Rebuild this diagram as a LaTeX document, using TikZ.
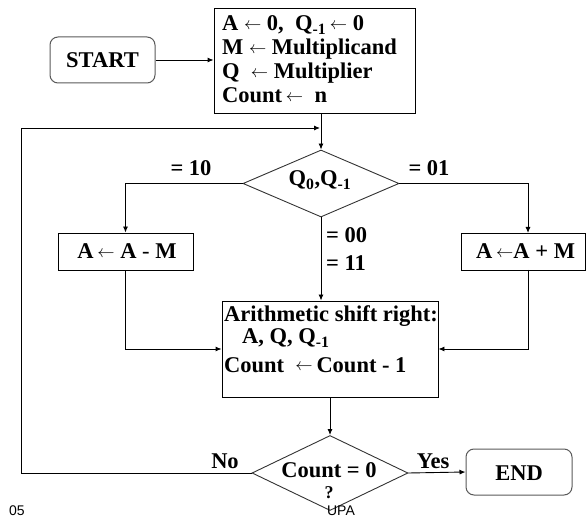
\documentclass[tikz,border=0pt]{standalone}
\usepackage{fontspec}
\setmainfont{Liberation Serif}
\setsansfont{Liberation Sans}
\usetikzlibrary{shapes.geometric,arrows.meta}

% thin assignment arrow used inside the boxes
\newcommand\larr{{\mdseries\fontsize{18}{18}\selectfont\raisebox{1.5pt}{$\leftarrow$}}}

\begin{document}
\begin{tikzpicture}[x=1pt,y=-1pt,
  every node/.style={inner sep=0pt,font=\bfseries\fontsize{22.5}{24}\selectfont},
  line/.style={line width=0.9pt},
  arr/.style={line width=0.9pt,-{Latex[length=6pt,width=5pt]}},
  box/.style={draw,line width=0.9pt,rectangle},
  term/.style={draw=black!65,line width=1pt,rectangle,rounded corners=8pt},
  dia/.style={draw=black!80,line width=0.9pt,diamond,minimum width=156pt},
  txt/.style={anchor=base west},
  ctxt/.style={anchor=base},
  note/.style={anchor=base,font=\sffamily\mdseries\fontsize{14}{14}\selectfont}]
\useasboundingbox (0,0) rectangle (586,518);

% terminals
\node[term,minimum width=105pt,minimum height=46pt] (start) at (102.5,60) {};
\node[ctxt] (startt) at (102.5,68) {START};
\node[term,minimum width=106pt,minimum height=46pt] (end) at (519,472) {};
\node[ctxt] (endt) at (519,480) {END};

% initialisation box
\node[box,minimum width=201pt,minimum height=105pt] (init) at (314.5,60.5) {};
\node[txt] (i1) at (222,31) {A~\larr~0,~~Q\textsubscript{-1}\,\larr~0};
\node[txt] (i2) at (222,55) {M~\larr~Multiplicand};
\node[txt] (i3) at (222,79) {Q~~\larr~Multiplier};
\node[txt] (i4) at (222,103) {Count\,\larr~~n};

% first decision
\node[dia,minimum height=67pt] (d1) at (321,183.5) {};
\node[ctxt] (d1t) at (320,186) {Q\textsubscript{0},Q\textsubscript{-1}};

% add / subtract boxes
\node[box,minimum width=135pt,minimum height=37pt] (sub) at (125.5,251.5) {};
\node[ctxt] (subt) at (127,259) {A\,\larr~A {\mdseries -} M};
\node[box,minimum width=124pt,minimum height=37pt] (add) at (523,251.5) {};
\node[txt] (addt) at (476,259) {A\,\larr A + M};
\coordinate (addin) at (528,233);
\coordinate (addout) at (528,270);

% shift box
\node[box,minimum width=216pt,minimum height=96pt] (asr) at (330,349) {};
\node[txt] (s1) at (224,322) {Arithmetic shift right:};
\node[txt] (s2) at (242,344) {A, Q, Q\textsubscript{-1}};
\node[txt] (s3) at (224,372) {Count~~\larr\,Count - 1};

% second decision
\node[dia,minimum height=75pt] (d2) at (330,473) {};
\node[ctxt] (d2t) at (329,477) {Count = 0};
\node[ctxt,font=\bfseries\fontsize{18}{18}\selectfont] (q) at (329,498) {?};

% branch labels
\node[ctxt] (l10) at (191,176) {= 10};
\node[ctxt] (l01) at (429,176) {= 01};
\node[txt] (l00) at (326,243) {= 00};
\node[txt] (l11) at (326,271) {= 11};
\node[ctxt] (lno) at (225,468) {No};
\node[ctxt] (lyes) at (433,468) {Yes};

% footer
\node[note] (f1) at (17,515) {05};
\node[note] (f2) at (341,515) {UPA};

% connectors
\coordinate (loopL) at (21,473);
\coordinate (loopT) at (21,128);
\coordinate (merge) at (320,128);
\draw[arr] (start.east) -- (start.east -| init.west);
\draw[arr] (init.south -| d1.north) -- (d1.north);
\draw[arr] (d1.west) -| (sub.north);
\draw[arr] (d1.east) -| (addin);
\draw[arr] (d1.south) -- (d1.south |- asr.north);
\draw[arr] (sub.south) |- (asr.west);
\draw[arr] (addout) |- (asr.east);
\draw[arr] (asr.south) -- (d2.north);
\draw[arr] (d2.east) -- (end.west);
\draw[arr] (d2.west) -- (loopL) -- (loopT) -- (merge);
\end{tikzpicture}
\end{document}
